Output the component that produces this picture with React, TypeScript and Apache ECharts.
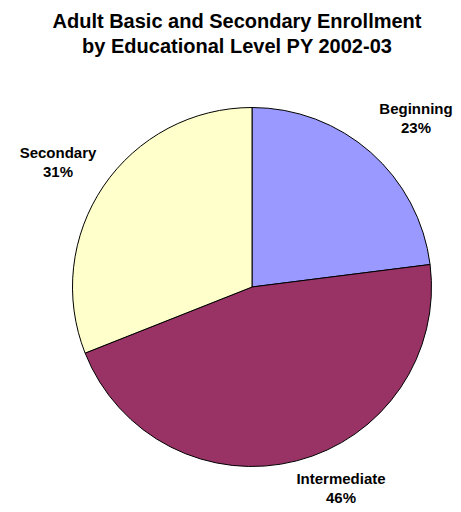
import React, { useEffect, useRef } from "react";
import * as echarts from "echarts";

const categories = ["Beginning", "Intermediate", "Secondary"];
const percents = [23, 46, 31];
const colors = ["#9999FF", "#993366", "#FFFFCC"];
const titleLines = ["Adult Basic and Secondary Enrollment", "by Educational Level PY 2002-03"];

const labelPos: [number, number][] = [
  [416, 118],
  [341, 488],
  [58, 162],
];

export default function App() {
  const ref = useRef<HTMLDivElement>(null);
  useEffect(() => {
    if (!ref.current) return;
    const chart = echarts.init(ref.current, undefined, { renderer: "svg" });
    chart.setOption({
      animation: false,
      backgroundColor: "#ffffff",
      title: {
        text: titleLines.join("\n"),
        left: 232,
        top: 3,
        textAlign: "center",
        textStyle: {
          fontFamily: "Liberation Sans, Arial, sans-serif",
          fontWeight: "bold",
          fontSize: 20,
          lineHeight: 25,
          color: "#000",
        },
      },
      series: [
        {
          type: "pie",
          center: [252, 287],
          radius: 179.5,
          startAngle: 90,
          clockwise: true,
          silent: true,
          data: categories.map((c, i) => ({
            name: c,
            value: percents[i],
            itemStyle: { color: colors[i] },
          })),
          itemStyle: { borderColor: "#000", borderWidth: 1 },
          label: {
            show: true,
            position: "outside",
            formatter: (p: any) => `${p.name}\n${p.value}%`,
            fontFamily: "Liberation Sans, Arial, sans-serif",
            fontWeight: "bold",
            fontSize: 15,
            lineHeight: 19,
            color: "#000",
            align: "center",
            overflow: "none",
            width: 200,
          },
          labelLine: { show: false },
          labelLayout: (params: any) => ({
            x: labelPos[params.dataIndex][0],
            y: labelPos[params.dataIndex][1],
            align: "center",
            verticalAlign: "middle",
          }),
        },
      ],
    });
    return () => chart.dispose();
  }, []);
  return <div ref={ref} style={{ width: 461, height: 512, position: "absolute", left: 0, top: 0 }} />;
}
